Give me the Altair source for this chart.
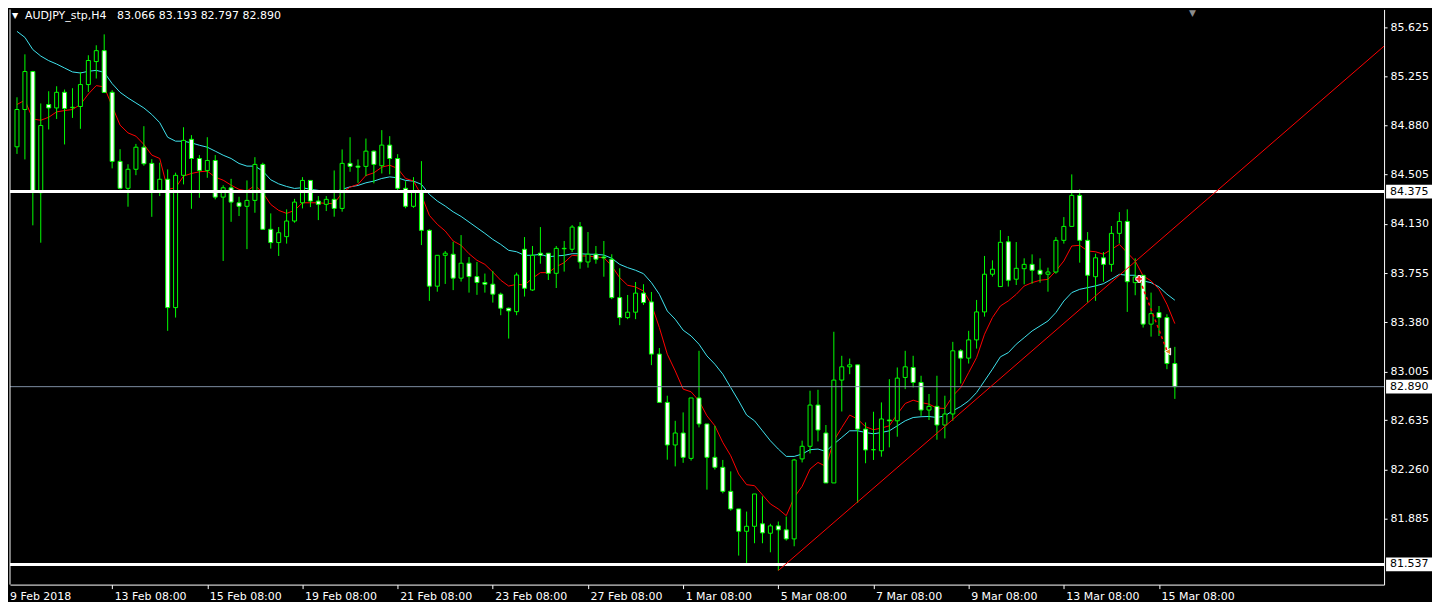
import altair as alt
import pandas as pd

# ---------------- data ----------------
opens = [
    84.716, 85.000, 85.289, 84.367, 85.038, 85.012, 85.131, 85.014, 85.023, 85.190,
    85.365, 85.448, 85.131, 84.605, 84.400, 84.545, 84.713, 84.590, 84.385, 84.469,
    83.492, 84.499, 84.773, 84.627, 84.536, 84.612, 84.333, 84.404, 84.290, 84.263,
    84.308, 84.582, 84.088, 83.987, 84.032, 84.151, 84.290, 84.460, 84.303, 84.278,
    84.316, 84.247, 84.590, 84.569, 84.567, 84.683, 84.572, 84.729, 84.627, 84.400,
    84.263, 84.374, 84.080, 83.655, 83.890, 83.898, 83.716, 83.830, 83.728, 83.683,
    83.670, 83.594, 83.487, 83.461, 83.936, 83.626, 83.906, 83.906, 83.753, 83.940,
    83.936, 84.108, 83.839, 83.898, 83.877, 83.860, 83.568, 83.416, 83.457, 83.602,
    83.535, 83.138, 82.770, 82.446, 82.537, 82.344, 82.804, 82.606, 82.352, 82.276,
    82.093, 81.959, 81.789, 81.827, 81.846, 81.774, 81.830, 81.800, 81.731, 82.340,
    82.436, 82.750, 82.537, 82.157, 82.940, 83.041, 83.056, 82.567, 82.410, 82.402,
    82.636, 82.630, 82.960, 83.036, 82.922, 82.712, 82.740, 82.598, 82.682, 83.163,
    83.107, 83.246, 83.459, 83.746, 83.652, 83.993, 83.708, 83.788, 83.821, 83.776,
    83.746, 83.763, 84.004, 84.110, 84.346, 84.004, 83.727, 83.871, 83.821, 84.057,
    84.148, 83.682, 83.738, 83.366, 83.454, 83.416, 83.066,
]
highs = [
    85.093, 85.420, 85.294, 85.046, 85.139, 85.177, 85.152, 85.162, 85.286, 85.413,
    85.489, 85.572, 85.147, 84.698, 84.583, 84.738, 84.873, 84.622, 84.595, 84.544,
    84.519, 84.865, 84.805, 84.653, 84.789, 84.653, 84.423, 84.472, 84.336, 84.460,
    84.637, 84.595, 84.209, 84.105, 84.240, 84.320, 84.485, 84.460, 84.341, 84.341,
    84.536, 84.696, 84.789, 84.620, 84.779, 84.688, 84.843, 84.797, 84.660, 84.455,
    84.485, 84.607, 84.088, 83.890, 83.923, 83.993, 84.044, 83.877, 83.839, 83.751,
    83.771, 83.606, 83.492, 83.758, 84.029, 83.961, 84.105, 83.906, 83.961, 83.999,
    84.120, 84.143, 84.067, 83.961, 83.999, 83.898, 83.791, 83.588, 83.687, 83.670,
    83.611, 83.184, 82.821, 82.630, 82.694, 82.804, 83.163, 82.606, 82.592, 82.332,
    82.245, 81.959, 81.939, 82.073, 82.055, 81.846, 81.863, 81.901, 82.340, 82.479,
    82.859, 82.866, 82.598, 83.308, 83.125, 83.104, 83.056, 82.618, 82.699, 82.770,
    82.947, 83.036, 83.163, 83.125, 82.973, 82.834, 82.973, 82.821, 83.231, 83.176,
    83.315, 83.550, 83.885, 83.852, 84.082, 84.037, 83.991, 83.867, 83.897, 83.867,
    83.796, 84.029, 84.181, 84.506, 84.392, 84.067, 83.902, 83.915, 84.113, 84.219,
    84.240, 83.867, 83.740, 83.606, 83.504, 83.441, 83.193,
]
lows = [
    84.662, 84.620, 84.118, 83.986, 84.848, 84.928, 84.734, 84.936, 84.853, 85.134,
    85.236, 85.130, 84.552, 84.392, 84.260, 84.500, 84.572, 84.183, 84.341, 83.315,
    83.416, 84.430, 84.244, 84.328, 84.480, 84.316, 83.847, 84.145, 84.189, 83.937,
    84.214, 84.088, 83.941, 83.885, 83.979, 84.138, 84.247, 84.257, 84.158, 84.227,
    84.184, 84.222, 84.526, 84.442, 84.493, 84.438, 84.513, 84.506, 84.374, 84.248,
    84.252, 83.968, 83.543, 83.613, 83.672, 83.625, 83.690, 83.606, 83.589, 83.606,
    83.530, 83.434, 83.256, 83.434, 83.576, 83.619, 83.826, 83.702, 83.641, 83.766,
    83.915, 83.788, 83.796, 83.826, 83.727, 83.556, 83.358, 83.404, 83.404, 83.512,
    83.054, 82.770, 82.334, 82.283, 82.310, 82.327, 82.580, 82.106, 82.259, 82.078,
    81.946, 81.604, 81.546, 81.698, 81.698, 81.629, 81.490, 81.718, 81.675, 82.313,
    82.382, 82.473, 82.157, 82.157, 82.701, 82.985, 82.005, 82.307, 82.332, 82.357,
    82.428, 82.509, 82.871, 82.884, 82.668, 82.636, 82.486, 82.496, 82.630, 82.914,
    83.066, 83.180, 83.423, 83.728, 83.652, 83.652, 83.664, 83.669, 83.674, 83.682,
    83.613, 83.750, 83.979, 84.110, 83.834, 83.530, 83.543, 83.689, 83.765, 83.979,
    83.459, 83.586, 83.340, 83.271, 83.276, 83.023, 82.797,
]
closes = [
    85.000, 85.289, 84.371, 84.878, 85.012, 85.131, 85.008, 85.017, 85.190, 85.373,
    85.448, 85.130, 84.605, 84.400, 84.545, 84.713, 84.587, 84.374, 84.469, 83.492,
    84.499, 84.765, 84.627, 84.536, 84.612, 84.333, 84.404, 84.295, 84.263, 84.308,
    84.582, 84.088, 83.987, 84.062, 84.151, 84.295, 84.460, 84.303, 84.278, 84.316,
    84.247, 84.590, 84.567, 84.561, 84.683, 84.582, 84.729, 84.627, 84.400, 84.263,
    84.374, 84.080, 83.655, 83.890, 83.906, 83.716, 83.830, 83.728, 83.683, 83.670,
    83.594, 83.487, 83.467, 83.740, 83.639, 83.890, 83.890, 83.753, 83.943, 83.943,
    84.105, 83.839, 83.898, 83.860, 83.870, 83.568, 83.416, 83.457, 83.602, 83.530,
    83.138, 82.770, 82.446, 82.537, 82.352, 82.804, 82.606, 82.352, 82.276, 82.093,
    81.959, 81.789, 81.827, 82.073, 81.777, 81.830, 81.800, 81.731, 82.332, 82.436,
    82.750, 82.560, 82.157, 82.940, 83.041, 83.056, 82.567, 82.408, 82.410, 82.644,
    82.630, 82.955, 83.041, 82.922, 82.712, 82.740, 82.598, 82.682, 83.163, 83.107,
    83.246, 83.459, 83.746, 83.784, 83.989, 83.700, 83.791, 83.821, 83.776, 83.746,
    83.763, 84.004, 84.110, 84.346, 84.004, 83.738, 83.871, 83.821, 84.057, 84.148,
    83.689, 83.725, 83.366, 83.446, 83.416, 83.066, 82.890,
]
ma_fast = [
    85.038, 85.071, 84.928, 84.918, 84.941, 84.982, 84.992, 85.000, 85.038, 85.118,
    85.182, 85.172, 85.025, 84.881, 84.822, 84.797, 84.734, 84.653, 84.627, 84.392,
    84.404, 84.493, 84.513, 84.526, 84.531, 84.485, 84.462, 84.424, 84.392, 84.379,
    84.422, 84.366, 84.277, 84.232, 84.209, 84.232, 84.290, 84.290, 84.290, 84.285,
    84.283, 84.366, 84.409, 84.430, 84.498, 84.518, 84.561, 84.576, 84.551, 84.475,
    84.455, 84.348, 84.194, 84.126, 84.075, 83.999, 83.966, 83.902, 83.852, 83.821,
    83.763, 83.700, 83.656, 83.669, 83.664, 83.715, 83.758, 83.758, 83.803, 83.834,
    83.890, 83.885, 83.885, 83.877, 83.872, 83.809, 83.720, 83.662, 83.649, 83.618,
    83.517, 83.340, 83.137, 83.010, 82.871, 82.851, 82.782, 82.668, 82.592, 82.465,
    82.364, 82.225, 82.144, 82.136, 82.066, 81.997, 81.959, 81.908, 82.047, 82.131,
    82.263, 82.313, 82.283, 82.478, 82.579, 82.674, 82.643, 82.585, 82.562, 82.575,
    82.592, 82.681, 82.762, 82.787, 82.769, 82.757, 82.727, 82.724, 82.820, 82.883,
    82.997, 83.111, 83.289, 83.416, 83.504, 83.543, 83.593, 83.656, 83.682, 83.700,
    83.707, 83.771, 83.847, 83.961, 83.966, 83.923, 83.917, 83.898, 83.935, 83.973,
    83.910, 83.847, 83.733, 83.695, 83.632, 83.517, 83.370,
]
ma_slow = [
    85.595, 85.549, 85.456, 85.407, 85.372, 85.346, 85.316, 85.286, 85.278, 85.291,
    85.298, 85.283, 85.197, 85.131, 85.088, 85.050, 85.012, 84.962, 84.900, 84.789,
    84.759, 84.759, 84.746, 84.728, 84.713, 84.683, 84.652, 84.627, 84.589, 84.569,
    84.569, 84.531, 84.465, 84.434, 84.414, 84.399, 84.405, 84.392, 84.384, 84.376,
    84.373, 84.392, 84.411, 84.422, 84.442, 84.455, 84.475, 84.487, 84.480, 84.460,
    84.455, 84.430, 84.354, 84.303, 84.265, 84.221, 84.186, 84.143, 84.100, 84.057,
    84.011, 83.973, 83.928, 83.917, 83.890, 83.890, 83.898, 83.879, 83.885, 83.890,
    83.902, 83.902, 83.898, 83.898, 83.892, 83.867, 83.821, 83.796, 83.776, 83.750,
    83.682, 83.593, 83.466, 83.403, 83.320, 83.276, 83.213, 83.124, 83.061, 82.985,
    82.883, 82.782, 82.674, 82.630, 82.554, 82.478, 82.415, 82.359, 82.359, 82.377,
    82.410, 82.415, 82.397, 82.453, 82.503, 82.554, 82.554, 82.541, 82.531, 82.541,
    82.554, 82.592, 82.630, 82.655, 82.661, 82.663, 82.655, 82.668, 82.706, 82.739,
    82.782, 82.845, 82.934, 83.023, 83.117, 83.149, 83.213, 83.263, 83.314, 83.352,
    83.390, 83.454, 83.542, 83.606, 83.631, 83.644, 83.657, 83.674, 83.708, 83.745,
    83.738, 83.738, 83.695, 83.682, 83.649, 83.594, 83.548,
]

date_ticks = [12, 24, 36, 48, 60, 72, 84, 96, 108, 120, 132, 144]
date_labels = ["13 Feb 08:00", "15 Feb 08:00", "19 Feb 08:00", "21 Feb 08:00",
               "23 Feb 08:00", "27 Feb 08:00", "1 Mar 08:00", "5 Mar 08:00",
               "7 Mar 08:00", "9 Mar 08:00", "13 Mar 08:00", "15 Mar 08:00"]
first_date_label = "9 Feb 2018"
price_ticks = [85.625, 85.255, 84.880, 84.505, 84.130, 83.755, 83.380,
               83.005, 82.635, 82.260, 81.885]
level_prices = [84.375, 81.537]
bid_price = [82.890]
boxed_prices = [84.375, 82.890, 81.537]
trend_idx = [96, 172.5]
trend_price = [81.490, 85.489]
trade_idx = [141.6, 145.0]
trade_price = [83.700, 83.165]
marker_idx = [141.5, 145.1]
marker_price = [83.710, 83.157]
marker_shape = ["cross", "triangle-left"]
marker_color = ["#ff1a1a", "#e08a20"]
title_text = "AUDJPY_stp,H4\u00a0\u00a0 83.066 83.193 82.797 82.890"

# ---------------- chart ----------------
W, H = 1376, 576
FONT = "DejaVu Sans"
xs = alt.Scale(domain=[-0.25, 171.75], nice=False, zero=False)
ys = alt.Scale(domain=[81.383, 85.762], nice=False, zero=False)

label_expr = "[" + ",".join("'%s'" % s for s in date_labels) + "][round(datum.value/12)-1]"
x_axis = alt.Axis(values=date_ticks, labelExpr=label_expr, labelAlign="left",
                  labelOffset=2, labelPadding=2, labelColor="white", labelFont=FONT,
                  labelFontSize=11, tickColor="white", tickSize=4, domainColor="white",
                  grid=False, title=None, labelOverlap=False, labelFlush=False)
y_axis = alt.Axis(orient="right", values=price_ticks, format=".3f", labelColor="white",
                  labelFont=FONT, labelFontSize=11, tickColor="white", tickSize=3,
                  domainColor="white", labelPadding=3, grid=False, title=None,
                  labelOverlap=False, labelFlush=False)


def X(field):
    return alt.X(field, type="quantitative", scale=xs, axis=x_axis, title=None)


def Y(field):
    return alt.Y(field, type="quantitative", scale=ys, axis=y_axis, title=None)


df = pd.DataFrame({"idx": list(range(len(opens))), "open": opens, "high": highs,
                   "low": lows, "close": closes, "ma_fast": ma_fast, "ma_slow": ma_slow})
base = alt.Chart(df)

slow_line = base.mark_line(color="#3fe3ee", strokeWidth=1, clip=True).encode(
    x=X("idx"), y=Y("ma_slow"))
fast_line = base.mark_line(color="#ff0000", strokeWidth=1, clip=True).encode(
    x=X("idx"), y=Y("ma_fast"))
wicks = base.mark_rule(color="#00ff00", strokeWidth=1).encode(
    x=X("idx"), y=Y("low"), y2="high")
bodies = base.mark_bar(size=4, stroke="#00ff00", strokeWidth=1).encode(
    x=X("idx"), y=Y("open"), y2="close",
    fill=alt.condition("datum.close < datum.open", alt.value("white"), alt.value("black")))

levels = alt.Chart(pd.DataFrame({"price": level_prices})).mark_rule(
    color="white", strokeWidth=3).encode(y=Y("price"))
bid = alt.Chart(pd.DataFrame({"price": bid_price})).mark_rule(
    color="#7d8ea3", strokeWidth=1).encode(y=Y("price"))

trend = alt.Chart(pd.DataFrame({"i0": [trend_idx[0]], "p0": [trend_price[0]],
                                "i1": [trend_idx[1]], "p1": [trend_price[1]]})).mark_rule(
    color="#ff0000", strokeWidth=1, clip=True).encode(x=X("i0"), y=Y("p0"), x2="i1", y2="p1")

trade = alt.Chart(pd.DataFrame({"i0": [trade_idx[0]], "p0": [trade_price[0]],
                                "i1": [trade_idx[1]], "p1": [trade_price[1]]})).mark_rule(
    color="#ff0000", strokeWidth=1.5, strokeDash=[3, 3]).encode(
    x=X("i0"), y=Y("p0"), x2="i1", y2="p1")

markers = alt.Chart(pd.DataFrame({"idx": marker_idx, "price": marker_price,
                                  "shape": marker_shape, "col": marker_color})).mark_point(
    filled=True, size=45, stroke="white", strokeWidth=1, opacity=1).encode(
    x=X("idx"), y=Y("price"),
    shape=alt.Shape("shape:N", scale=None), fill=alt.Fill("col:N", scale=None))

box_df = pd.DataFrame({"price": boxed_prices})
boxes = alt.Chart(box_df).transform_calculate(
    lo="datum.price - 0.052", hi="datum.price + 0.052").mark_rect(color="white").encode(
    x=alt.value(W + 2), x2=alt.value(W + 48), y=Y("lo"), y2="hi:Q")
box_text = alt.Chart(box_df).mark_text(align="left", baseline="middle", color="black",
                                       font=FONT, fontSize=11).encode(
    x=alt.value(W + 6), y=Y("price"), text=alt.Text("price:Q", format=".3f"))

title_df = pd.DataFrame({"t": [title_text]})
title_tri = alt.Chart(title_df).mark_text(text="▼", align="left", baseline="middle",
                                          color="white", font=FONT, fontSize=8).encode(
    x=alt.value(2), y=alt.value(7))
title = alt.Chart(title_df).mark_text(align="left", baseline="middle", color="white",
                                      font=FONT, fontSize=11).encode(
    x=alt.value(15), y=alt.value(7), text="t:N")
shift_mark = alt.Chart(title_df).mark_text(text="▼", align="center", baseline="top",
                                           color="#8c8c8c", font=FONT, fontSize=9).encode(
    x=alt.value(1184), y=alt.value(0))
first_label = alt.Chart(pd.DataFrame({"t": [first_date_label]})).mark_text(
    align="left", baseline="top", color="white", font=FONT, fontSize=11).encode(
    x=alt.value(0), y=alt.value(H + 6), text="t:N")
left_frame = alt.Chart(title_df).mark_rule(color="white", strokeWidth=1).encode(
    x=alt.value(0), y=alt.value(0), y2=alt.value(H))

chart = alt.layer(
    slow_line, fast_line, wicks, bodies, levels, bid, trend, trade, markers,
    boxes, box_text, title_tri, title, shift_mark, first_label, left_frame,
).properties(width=W, height=H, background="black", padding=0).configure_view(strokeWidth=0)

chart.save("out.html", embed_options={"renderer": "svg", "actions": False})
